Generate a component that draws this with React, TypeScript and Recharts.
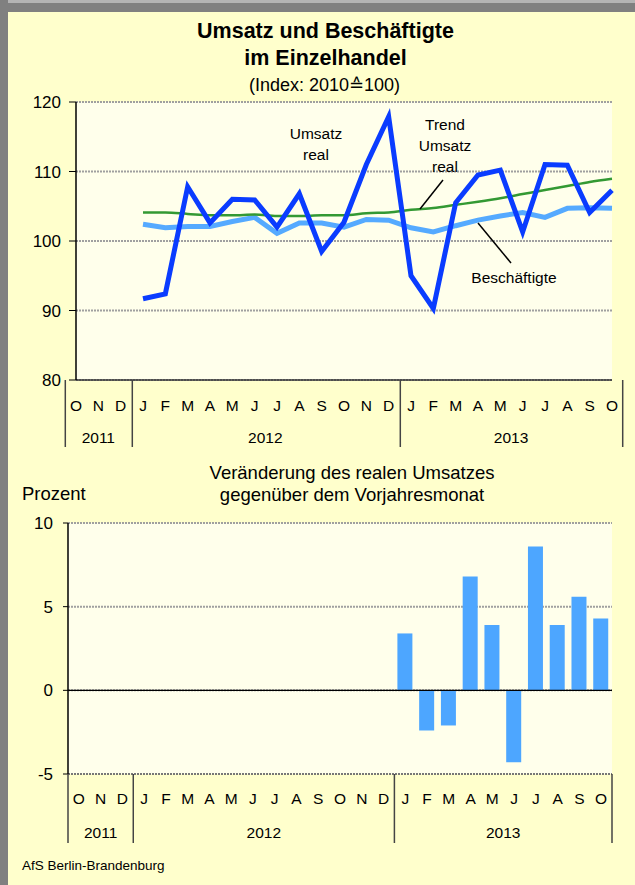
import React from 'react';
import { LineChart, Line, BarChart, Bar, XAxis, YAxis, CartesianGrid, ReferenceLine } from 'recharts';

const months = ['O', 'N', 'D', 'J', 'F', 'M', 'A', 'M', 'J', 'J', 'A', 'S', 'O', 'N', 'D', 'J', 'F', 'M', 'A', 'M', 'J', 'J', 'A', 'S', 'O'];
const yearGroups = [
  { label: '2011', from: 0, to: 2 },
  { label: '2012', from: 3, to: 14 },
  { label: '2013', from: 15, to: 24 },
];
const umsatzReal = [null, null, null, 91.7, 92.4, 107.8, 102.6, 106.0, 105.9, 102.0, 106.8, 98.5, 102.7, 111.0, 117.9, 95.0, 90.3, 105.5, 109.5, 110.2, 101.3, 111.0, 110.9, 104.1, 107.3];
const beschaeftigte = [null, null, null, 102.4, 101.9, 102.1, 102.1, 102.8, 103.4, 101.1, 102.6, 102.6, 102.0, 103.1, 103.0, 101.9, 101.3, 102.2, 103.0, 103.6, 104.1, 103.4, 104.7, 104.8, 104.7];
const trendUmsatz = [null, null, null, 104.1, 104.1, 103.9, 103.7, 103.7, 103.8, 103.6, 103.6, 103.7, 103.7, 104.0, 104.1, 104.5, 104.75, 105.2, 105.65, 106.15, 106.75, 107.35, 107.9, 108.5, 108.95];
const veraenderung = [null, null, null, null, null, null, null, null, null, null, null, null, null, null, null, 3.4, -2.4, -2.1, 6.8, 3.9, -4.3, 8.6, 3.9, 5.6, 4.3];
const indexTicks = [80, 90, 100, 110, 120];
const pctTicks = [-5, 0, 5, 10];

const lineData = months.map((m, i) => ({ id: String(i), umsatz: umsatzReal[i], besch: beschaeftigte[i], trend: trendUmsatz[i] }));
const barData = months.map((m, i) => ({ id: String(i), pct: veraenderung[i] }));

const FONT = '"Liberation Sans", Arial, Helvetica, sans-serif';

function makeTick(rowDy: number, yearDy: number, sepLen: number) {
  return (props: any) => {
    const { x, y, payload } = props;
    const i = Number(payload.value);
    const half = payload.offset || 10.7;
    const els: any[] = [];
    els.push(
      <text key="m" x={x} y={y + rowDy} textAnchor="middle" dy="0.36em" fontSize={15.5} fontFamily={FONT} fill="#000">
        {months[i]}
      </text>
    );
    yearGroups.forEach((g) => {
      if (i === g.from) {
        els.push(<line key={'s' + g.label} x1={x - half} x2={x - half} y1={y} y2={y + sepLen} stroke="#444" strokeWidth={1.5} />);
      }
      if (i === g.to && i === months.length - 1) {
        els.push(<line key={'e' + g.label} x1={x + half} x2={x + half} y1={y} y2={y + sepLen} stroke="#444" strokeWidth={1.5} />);
      }
      const mid = (g.from + g.to) / 2;
      if (i === Math.floor(mid)) {
        els.push(
          <text key={'y' + g.label} x={x + (mid - i) * 2 * half} y={y + yearDy} dy="0.36em" textAnchor="middle" fontSize={15.5} fontFamily={FONT} fill="#000">
            {g.label}
          </text>
        );
      }
    });
    return <g>{els}</g>;
  };
}

const topTick = makeTick(25, 57, 67);
const bottomTick = makeTick(24, 58, 69);

const ann: React.CSSProperties = { position: 'absolute', fontFamily: FONT, fontSize: 15.5, color: '#000', textAlign: 'center', lineHeight: '21px', whiteSpace: 'nowrap' };

export default function App() {
  return (
    <div style={{ position: 'absolute', left: 0, top: 0, width: 635, height: 885, background: '#FFFFCC', overflow: 'hidden', fontFamily: FONT }}>
      <div style={{ position: 'absolute', left: 0, top: 0, width: 635, height: 3, background: '#B4B4B4' }} />
      <div style={{ position: 'absolute', left: 0, top: 3, width: 635, height: 9, background: '#808080' }} />
      <div style={{ position: 'absolute', left: 0, top: 0, width: 8, height: 885, background: '#808080' }} />

      <div style={{ position: 'absolute', left: 0, top: 18, width: 651, textAlign: 'center', fontWeight: 'bold', fontSize: 21.5, lineHeight: '27px', color: '#000' }}>
        Umsatz und Beschäftigte<br />im Einzelhandel
      </div>
      <div style={{ position: 'absolute', left: 0, top: 74, width: 649, textAlign: 'center', fontSize: 18, lineHeight: '22px', color: '#000' }}>
        (Index: 2010≙100)
      </div>

      <div style={{ position: 'absolute', left: 0, top: 0 }}>
        <LineChart width={635} height={460} data={lineData} margin={{ top: 102, right: 23, bottom: 10, left: 0 }}>
          <CartesianGrid vertical={false} stroke="#A0A0A0" strokeWidth={2} strokeDasharray="2 1" fill="#FFFFEB" />
          <XAxis dataKey="id" type="category" interval={0} tickLine={false} tickSize={0} tickMargin={0} height={70} axisLine={{ stroke: '#333', strokeWidth: 1.5 }} tick={topTick} />
          <YAxis domain={[80, 120]} ticks={indexTicks} width={76} tickSize={7} tickMargin={8} interval={0}
            axisLine={{ stroke: '#000', strokeWidth: 1.5 }} tickLine={{ stroke: '#000' }}
            tick={{ fontSize: 17, fontFamily: FONT, fill: '#000' }} />
          <YAxis yAxisId="r" orientation="right" width={0} domain={[0, 1]} tick={false} tickLine={false} axisLine={{ stroke: '#333', strokeWidth: 1.5 }} />
          <Line dataKey="besch" stroke="#55AAFF" strokeWidth={5} dot={false} activeDot={false} isAnimationActive={false} />
          <Line dataKey="trend" type="monotone" stroke="#339933" strokeWidth={2.5} dot={false} activeDot={false} isAnimationActive={false} />
          <Line dataKey="umsatz" stroke="#0A3CFF" strokeWidth={5} dot={false} activeDot={false} isAnimationActive={false} />
        </LineChart>
      </div>

      <div style={{ ...ann, left: 286, top: 123, width: 60 }}>Umsatz<br />real</div>
      <div style={{ ...ann, left: 410, top: 114, width: 70 }}>Trend<br />Umsatz<br />real</div>
      <div style={{ ...ann, left: 464, top: 267, width: 100 }}>Beschäftigte</div>
      <svg style={{ position: 'absolute', left: 0, top: 0 }} width={635} height={400}>
        <line x1={443} y1={180} x2={420} y2={209} stroke="#000" strokeWidth={1.5} />
        <line x1={478} y1={223} x2={511} y2={263} stroke="#000" strokeWidth={1.5} />
      </svg>

      <div style={{ position: 'absolute', left: 0, top: 462, width: 704, textAlign: 'center', fontSize: 18.5, lineHeight: '22px', color: '#000' }}>
        Veränderung des realen Umsatzes<br />gegenüber dem Vorjahresmonat
      </div>
      <div style={{ position: 'absolute', left: 22, top: 483, fontSize: 18.5, lineHeight: '22px', color: '#000' }}>Prozent</div>

      <div style={{ position: 'absolute', left: 0, top: 440 }}>
        <BarChart width={635} height={420} data={barData} margin={{ top: 83, right: 23, bottom: 11, left: 0 }} barSize={15}>
          <CartesianGrid vertical={false} stroke="#A0A0A0" strokeWidth={2} strokeDasharray="2 1" fill="#FFFFEB" />
          <XAxis dataKey="id" type="category" interval={0} tickLine={false} tickSize={0} tickMargin={0} height={75} axisLine={{ stroke: '#777', strokeWidth: 2, strokeDasharray: '2 1' }} tick={bottomTick} />
          <YAxis domain={[-5, 10]} ticks={pctTicks} width={68} tickSize={5} tickMargin={10} interval={0}
            axisLine={{ stroke: '#000', strokeWidth: 1.5 }} tickLine={{ stroke: '#000' }}
            tick={{ fontSize: 17, fontFamily: FONT, fill: '#000' }} />
          <YAxis yAxisId="r" orientation="right" width={0} domain={[0, 1]} tick={false} tickLine={false} axisLine={{ stroke: '#333', strokeWidth: 1.5 }} />
          <Bar dataKey="pct" fill="#4DA6FF" isAnimationActive={false} />
          <ReferenceLine y={0} stroke="#000" strokeWidth={1.2} />
        </BarChart>
      </div>

      <div style={{ position: 'absolute', left: 22, top: 857, fontSize: 13.5, lineHeight: '18px', color: '#000' }}>AfS Berlin-Brandenburg</div>
    </div>
  );
}
